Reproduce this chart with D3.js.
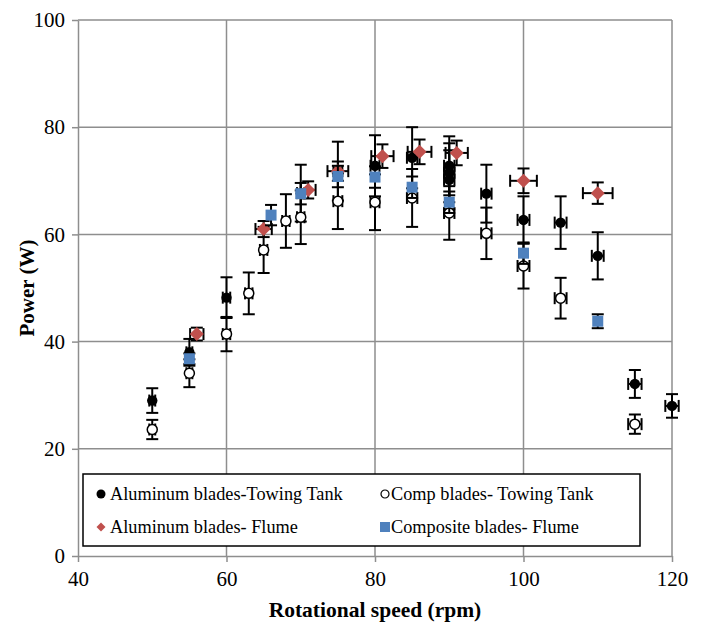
<!DOCTYPE html>
<html>
<head>
<meta charset="utf-8">
<script src="https://cdn.jsdelivr.net/npm/d3@7"></script>
<style>
  body { margin: 0; background: #fff; }
</style>
</head>
<body>
<div id="chart"></div>
<script>
// Aluminum blades - Towing Tank (black dots)
var alTowRpm  = [50, 55, 60, 70, 75, 80, 85, 90, 90, 90, 95, 100, 105, 110, 115, 120];
var alTowPow  = [29.0, 38.0, 48.2, 67.7, 71.8, 72.8, 74.3, 72.8, 71.5, 70.2, 67.6, 62.7, 62.2, 56.0, 32.1, 28.0];
var alTowErr  = [2.3, 2.5, 3.8, 5.3, 5.5, 5.7, 5.7, 5.5, 5.5, 5.5, 5.4, 4.4, 4.9, 4.4, 2.6, 2.2];
var alTowXErr = [0.4, 0.4, 0.5, 0.5, 0.6, 0.6, 0.7, 0.7, 0.7, 0.7, 0.7, 0.8, 0.8, 0.8, 0.9, 0.9];

// Comp blades - Towing Tank (open circles)
var cpTowRpm  = [50, 55, 60, 63, 65, 68, 70, 75, 80, 85, 90, 95, 100, 105, 115];
var cpTowPow  = [23.6, 34.1, 41.4, 49.0, 57.1, 62.5, 63.2, 66.2, 66.0, 66.8, 64.0, 60.2, 54.1, 48.1, 24.6];
var cpTowErr  = [1.8, 2.6, 3.2, 3.9, 4.3, 5.0, 5.0, 5.2, 5.2, 5.4, 5.0, 4.8, 4.2, 3.8, 1.8];
var cpTowXErr = [0.4, 0.4, 0.5, 0.5, 0.5, 0.5, 0.5, 0.6, 0.6, 0.7, 0.7, 0.7, 0.8, 0.8, 0.9];

// Aluminum blades - Flume (red diamonds)
var alFluRpm  = [56, 65, 71, 75, 81, 86, 91, 100, 110];
var alFluPow  = [41.4, 61.0, 68.3, 71.8, 74.6, 75.4, 75.2, 70.0, 67.7];
var alFluErr  = [1.2, 1.5, 1.6, 1.8, 2.2, 2.3, 2.3, 2.3, 2.0];
var alFluXErr = [0.9, 1.1, 1.0, 1.4, 1.5, 1.6, 1.5, 1.8, 2.0];

// Composite blades - Flume (blue squares)
var cpFluRpm  = [55, 66, 70, 75, 80, 85, 90, 100, 110];
var cpFluPow  = [36.8, 63.6, 67.6, 70.8, 70.7, 68.8, 66.0, 56.5, 43.8];
var cpFluErr  = [1.0, 1.9, 2.0, 2.0, 2.0, 2.0, 2.0, 2.0, 1.3];

var xTicks = [40, 60, 80, 100, 120];
var yTicks = [0, 20, 40, 60, 80, 100];

var legendLabels = ["Aluminum blades-Towing Tank", "Comp blades- Towing Tank",
                    "Aluminum blades- Flume", "Composite blades- Flume"];

var width = 702, height = 628;
var margin = {left: 78, right: 30, top: 20, bottom: 72};
var serif = "'Liberation Serif', monospace";

var svg = d3.select("#chart").append("svg")
    .attr("width", width)
    .attr("height", height);

var x = d3.scaleLinear().domain([40, 120]).range([margin.left, width - margin.right]);
var y = d3.scaleLinear().domain([0, 100]).range([height - margin.bottom, margin.top]);

var gridColor = "#8e8e8e";

// gridlines
svg.append("g").selectAll("line.h")
    .data(yTicks.slice(1))
    .enter().append("line")
    .attr("x1", x(40)).attr("x2", x(120))
    .attr("y1", function(d) { return y(d); })
    .attr("y2", function(d) { return y(d); })
    .style("stroke", gridColor).style("stroke-width", 1.5);

svg.append("g").selectAll("line.v")
    .data(xTicks.slice(1))
    .enter().append("line")
    .attr("y1", y(0)).attr("y2", y(100))
    .attr("x1", function(d) { return x(d); })
    .attr("x2", function(d) { return x(d); })
    .style("stroke", gridColor).style("stroke-width", 1.5);

// axes
var yAxis = svg.append("g")
    .attr("transform", "translate(" + x(40) + ",0)")
    .call(d3.axisLeft(y).tickValues(yTicks).tickSize(6).tickPadding(7).tickSizeOuter(0));
var xAxis = svg.append("g")
    .attr("transform", "translate(0," + y(0) + ")")
    .call(d3.axisBottom(x).tickValues(xTicks).tickSize(6).tickPadding(9).tickSizeOuter(0));

[xAxis, yAxis].forEach(function(a) {
    a.attr("font-family", null).attr("font-size", null);
    a.select(".domain").style("stroke", gridColor).style("stroke-width", 1.5);
    a.selectAll(".tick line").style("stroke", gridColor).style("stroke-width", 1.5);
    a.selectAll(".tick text")
        .style("font-family", serif)
        .style("font-size", "21px")
        .style("fill", "#000");
});

// axis titles
svg.append("text")
    .attr("transform", "translate(34," + y(50) + ") rotate(-90)")
    .attr("text-anchor", "middle")
    .style("font-family", serif)
    .style("font-size", "21px").style("font-weight", "bold")
    .text("Power (W)");

svg.append("text")
    .attr("x", x(80)).attr("y", 617)
    .attr("text-anchor", "middle")
    .style("font-family", serif)
    .style("font-size", "21.5px").style("font-weight", "bold")
    .text("Rotational speed (rpm)");

// helpers
function zip(rpm, pow, err, xerr) {
    return rpm.map(function(r, i) {
        return {x: r, y: pow[i], e: err[i], xe: xerr ? xerr[i] : 0};
    });
}

var cap = 6;

function drawErrors(g, data) {
    var eg = g.append("g").style("stroke", "#000").style("stroke-width", 2);
    data.forEach(function(d) {
        var cx = x(d.x), y1 = y(d.y + d.e), y2 = y(d.y - d.e);
        eg.append("line").attr("x1", cx).attr("x2", cx).attr("y1", y1).attr("y2", y2);
        eg.append("line").attr("x1", cx - cap).attr("x2", cx + cap).attr("y1", y1).attr("y2", y1);
        eg.append("line").attr("x1", cx - cap).attr("x2", cx + cap).attr("y1", y2).attr("y2", y2);
        if (d.xe > 0) {
            var cy = y(d.y), x1 = x(d.x - d.xe), x2 = x(d.x + d.xe);
            eg.append("line").attr("x1", x1).attr("x2", x2).attr("y1", cy).attr("y2", cy);
            eg.append("line").attr("x1", x1).attr("x2", x1).attr("y1", cy - cap).attr("y2", cy + cap);
            eg.append("line").attr("x1", x2).attr("x2", x2).attr("y1", cy - cap).attr("y2", cy + cap);
        }
    });
}

var symCircle = d3.symbol().type(d3.symbolCircle).size(Math.PI * 5.2 * 5.2);
var symDiamond = function(s) {
    return "M0," + (-s) + "L" + s + ",0L0," + s + "L" + (-s) + ",0Z";
};

var series = [
    {data: zip(alTowRpm, alTowPow, alTowErr, alTowXErr), draw: function(sel) {
        sel.append("path").attr("d", symCircle).style("fill", "#000");
    }},
    {data: zip(cpTowRpm, cpTowPow, cpTowErr, cpTowXErr), draw: function(sel) {
        sel.append("circle").attr("r", 5).style("fill", "#fff")
            .style("stroke", "#000").style("stroke-width", 1.5);
    }},
    {data: zip(alFluRpm, alFluPow, alFluErr, alFluXErr), draw: function(sel) {
        sel.append("path").attr("d", symDiamond(7)).style("fill", "#c0504d");
    }},
    {data: zip(cpFluRpm, cpFluPow, cpFluErr), draw: function(sel) {
        sel.append("rect").attr("x", -5.5).attr("y", -5.5)
            .attr("width", 11).attr("height", 11).style("fill", "#4f81bd");
    }}
];

series.forEach(function(s) {
    var g = svg.append("g");
    drawErrors(g, s.data);
    var pts = g.selectAll("g.pt")
        .data(s.data)
        .enter().append("g")
        .attr("transform", function(d) { return "translate(" + x(d.x) + "," + y(d.y) + ")"; });
    s.draw(pts);
});

// legend
var lg = svg.append("g");
lg.append("rect")
    .attr("x", 83).attr("y", 474)
    .attr("width", 557).attr("height", 72)
    .style("fill", "#fff").style("stroke", "#000").style("stroke-width", 1.5);

var legPos = [
    {mx: 101, ty: 500, tx: 110},
    {mx: 385, ty: 500, tx: 391},
    {mx: 101, ty: 533, tx: 110},
    {mx: 385, ty: 533, tx: 391}
];

legendLabels.forEach(function(lab, i) {
    var p = legPos[i];
    var m = lg.append("g").attr("transform", "translate(" + p.mx + "," + (p.ty - 6) + ")");
    if (i === 0) m.append("circle").attr("r", 4.5).style("fill", "#000");
    if (i === 1) m.append("circle").attr("r", 4).style("fill", "#fff").style("stroke", "#000").style("stroke-width", 1.2);
    if (i === 2) m.append("path").attr("d", symDiamond(4.5)).style("fill", "#c0504d");
    if (i === 3) m.append("rect").attr("x", -5).attr("y", -5).attr("width", 10).attr("height", 10).style("fill", "#4f81bd");
    lg.append("text")
        .attr("x", p.tx).attr("y", p.ty)
        .style("font-family", serif)
        .style("font-size", "18.3px")
        .text(lab);
});
</script>
</body>
</html>
